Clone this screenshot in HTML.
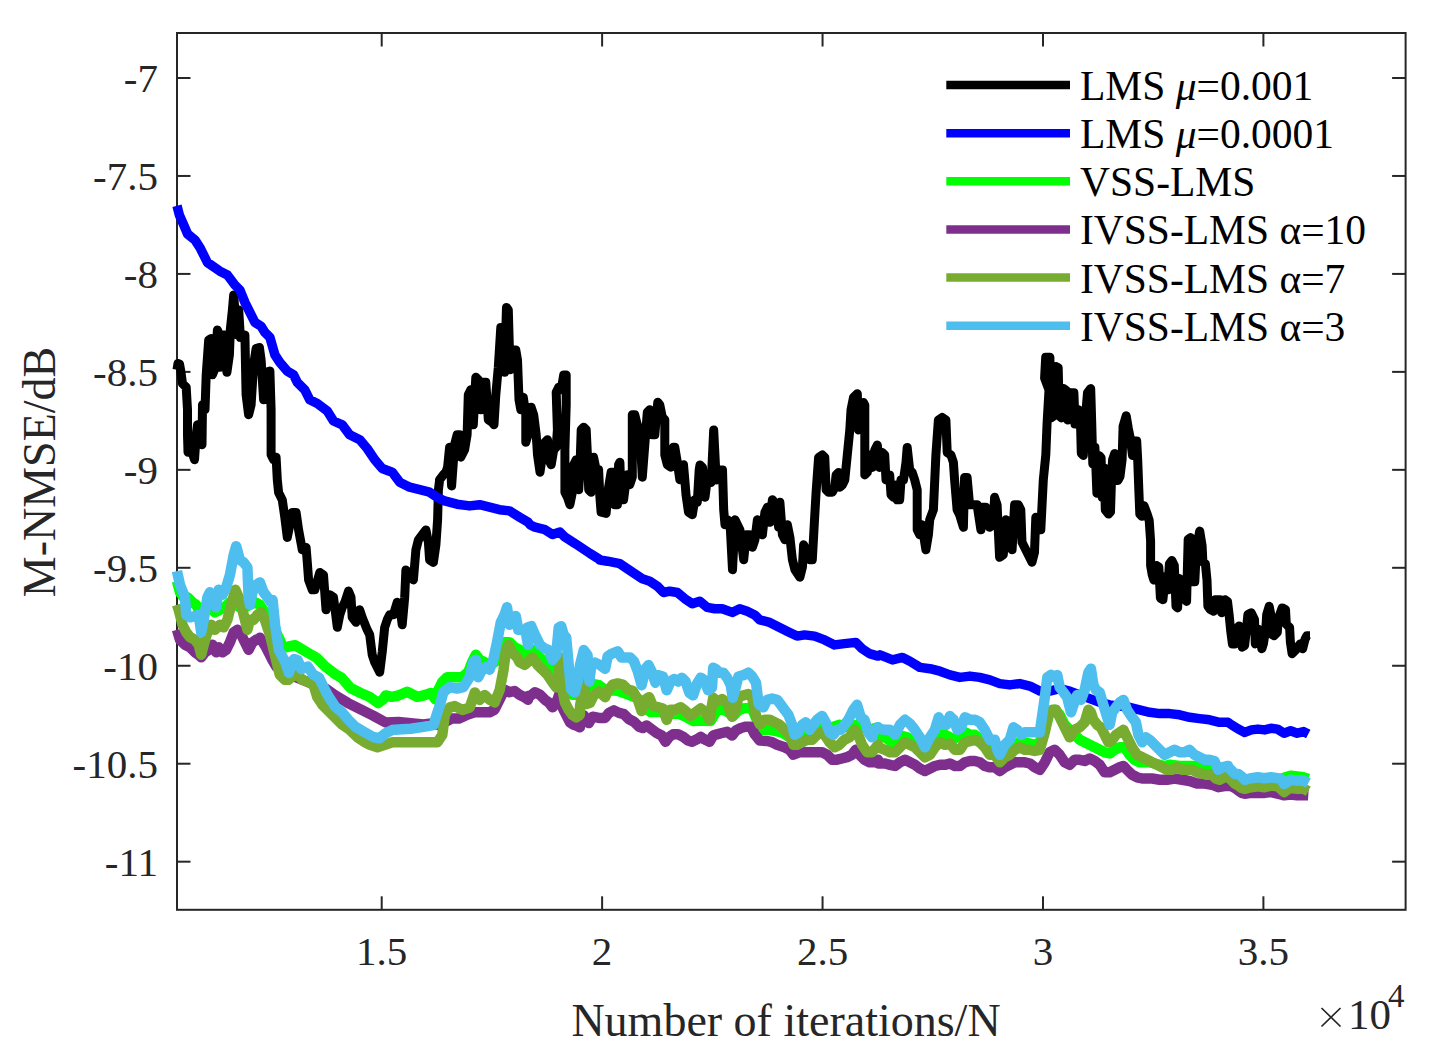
<!DOCTYPE html>
<html><head><meta charset="utf-8"><style>
html,body{margin:0;padding:0;background:#fff;}
svg{display:block;}
text{font-family:"Liberation Serif",serif;}
.t{font-size:41px;fill:#262626;}
.sup{font-size:33px;fill:#262626;}
.lab{font-size:46px;fill:#262626;}
.lg{font-size:41.5px;fill:#000;}
</style></head><body>
<svg width="1434" height="1058" viewBox="0 0 1434 1058">
<rect x="0" y="0" width="1434" height="1058" fill="#fff"/>
<rect x="177" y="33" width="1228.6" height="876.8" fill="none" stroke="#262626" stroke-width="2"/>
<line x1="177" y1="78.00" x2="190.5" y2="78.00" stroke="#262626" stroke-width="2"/>
<line x1="1405.6" y1="78.00" x2="1392.1" y2="78.00" stroke="#262626" stroke-width="2"/>
<text x="158" y="92.00" text-anchor="end" class="t">-7</text>
<line x1="177" y1="175.96" x2="190.5" y2="175.96" stroke="#262626" stroke-width="2"/>
<line x1="1405.6" y1="175.96" x2="1392.1" y2="175.96" stroke="#262626" stroke-width="2"/>
<text x="158" y="189.96" text-anchor="end" class="t">-7.5</text>
<line x1="177" y1="273.92" x2="190.5" y2="273.92" stroke="#262626" stroke-width="2"/>
<line x1="1405.6" y1="273.92" x2="1392.1" y2="273.92" stroke="#262626" stroke-width="2"/>
<text x="158" y="287.92" text-anchor="end" class="t">-8</text>
<line x1="177" y1="371.88" x2="190.5" y2="371.88" stroke="#262626" stroke-width="2"/>
<line x1="1405.6" y1="371.88" x2="1392.1" y2="371.88" stroke="#262626" stroke-width="2"/>
<text x="158" y="385.88" text-anchor="end" class="t">-8.5</text>
<line x1="177" y1="469.84" x2="190.5" y2="469.84" stroke="#262626" stroke-width="2"/>
<line x1="1405.6" y1="469.84" x2="1392.1" y2="469.84" stroke="#262626" stroke-width="2"/>
<text x="158" y="483.84" text-anchor="end" class="t">-9</text>
<line x1="177" y1="567.80" x2="190.5" y2="567.80" stroke="#262626" stroke-width="2"/>
<line x1="1405.6" y1="567.80" x2="1392.1" y2="567.80" stroke="#262626" stroke-width="2"/>
<text x="158" y="581.80" text-anchor="end" class="t">-9.5</text>
<line x1="177" y1="665.76" x2="190.5" y2="665.76" stroke="#262626" stroke-width="2"/>
<line x1="1405.6" y1="665.76" x2="1392.1" y2="665.76" stroke="#262626" stroke-width="2"/>
<text x="158" y="679.76" text-anchor="end" class="t">-10</text>
<line x1="177" y1="763.72" x2="190.5" y2="763.72" stroke="#262626" stroke-width="2"/>
<line x1="1405.6" y1="763.72" x2="1392.1" y2="763.72" stroke="#262626" stroke-width="2"/>
<text x="158" y="777.72" text-anchor="end" class="t">-10.5</text>
<line x1="177" y1="861.68" x2="190.5" y2="861.68" stroke="#262626" stroke-width="2"/>
<line x1="1405.6" y1="861.68" x2="1392.1" y2="861.68" stroke="#262626" stroke-width="2"/>
<text x="158" y="875.68" text-anchor="end" class="t">-11</text>
<line x1="381.70" y1="909.8" x2="381.70" y2="896.3" stroke="#262626" stroke-width="2"/>
<line x1="381.70" y1="33" x2="381.70" y2="46.5" stroke="#262626" stroke-width="2"/>
<text x="381.70" y="965" text-anchor="middle" class="t">1.5</text>
<line x1="602.12" y1="909.8" x2="602.12" y2="896.3" stroke="#262626" stroke-width="2"/>
<line x1="602.12" y1="33" x2="602.12" y2="46.5" stroke="#262626" stroke-width="2"/>
<text x="602.12" y="965" text-anchor="middle" class="t">2</text>
<line x1="822.55" y1="909.8" x2="822.55" y2="896.3" stroke="#262626" stroke-width="2"/>
<line x1="822.55" y1="33" x2="822.55" y2="46.5" stroke="#262626" stroke-width="2"/>
<text x="822.55" y="965" text-anchor="middle" class="t">2.5</text>
<line x1="1042.98" y1="909.8" x2="1042.98" y2="896.3" stroke="#262626" stroke-width="2"/>
<line x1="1042.98" y1="33" x2="1042.98" y2="46.5" stroke="#262626" stroke-width="2"/>
<text x="1042.98" y="965" text-anchor="middle" class="t">3</text>
<line x1="1263.40" y1="909.8" x2="1263.40" y2="896.3" stroke="#262626" stroke-width="2"/>
<line x1="1263.40" y1="33" x2="1263.40" y2="46.5" stroke="#262626" stroke-width="2"/>
<text x="1263.40" y="965" text-anchor="middle" class="t">3.5</text>
<path d="M177.0,369.8 L178.0,363.4 L179.5,363.9 L181.0,372.3 L182.5,383.6 L186.2,387.3 L187.5,409.8 L187.5,434.8 L188.0,452.2 L191.2,449.7 L194.5,459.7 L196.2,434.8 L197.5,424.8 L200.0,442.2 L202.0,444.7 L202.5,404.8 L205.0,409.8 L206.2,374.8 L208.7,339.9 L211.2,338.6 L212.4,374.8 L214.4,369.8 L215.4,364.9 L217.4,329.9 L219.4,334.9 L219.9,367.3 L222.4,334.9 L224.9,334.9 L226.9,372.3 L229.4,354.9 L230.4,328.7 L232.4,309.9 L233.7,295.0 L235.4,317.4 L236.9,334.9 L238.7,309.9 L240.4,337.4 L243.6,337.4 L244.9,334.9 L246.1,394.8 L248.6,414.8 L251.1,404.8 L253.6,364.9 L256.1,348.6 L259.4,347.4 L261.1,359.9 L263.6,399.8 L266.1,372.3 L269.9,371.1 L271.1,409.8 L271.1,454.7 L273.6,459.7 L276.1,457.2 L277.3,479.7 L278.6,492.5 L282.3,500.0 L284.8,517.4 L287.3,537.4 L292.3,512.5 L296.1,512.5 L298.6,529.9 L302.3,549.9 L306.1,547.4 L307.3,562.4 L308.6,579.9 L312.3,589.8 L314.8,589.8 L319.8,572.4 L323.5,574.9 L326.0,609.8 L329.8,594.8 L333.5,597.3 L337.3,627.3 L339.8,614.8 L342.3,607.3 L344.8,602.3 L348.5,591.1 L351.0,597.3 L352.2,617.3 L356.0,622.3 L359.7,609.8 L362.2,617.3 L367.2,629.8 L369.7,634.8 L372.2,654.8 L374.7,662.2 L379.7,672.2 L382.2,652.3 L384.7,627.3 L387.2,619.8 L389.7,614.8 L393.4,614.8 L397.2,602.3 L399.7,604.8 L402.2,624.8 L404.7,597.3 L405.9,569.9 L409.7,574.9 L413.4,579.9 L415.9,549.9 L418.4,539.9 L422.1,534.9 L425.9,529.9 L428.4,542.4 L429.6,559.9 L433.4,562.4 L435.9,544.9 L437.6,519.9 L438.4,490.0 L439.6,480.0 L439.6,479.7 L443.4,474.7 L445.9,472.2 L447.6,467.2 L449.6,447.2 L451.6,485.9 L454.6,444.7 L457.1,434.8 L459.6,434.8 L460.8,457.2 L464.6,449.7 L467.1,434.8 L468.3,394.8 L470.8,389.8 L473.3,424.8 L475.8,377.3 L478.3,379.8 L480.8,409.8 L483.3,382.3 L485.8,382.3 L488.3,419.8 L492.0,422.3 L494.0,424.8 L495.8,394.8 L498.3,367.3 L500.8,327.4 L503.3,327.4 L504.5,372.3 L506.5,307.4 L508.3,309.9 L510.0,369.8 L512.5,349.9 L515.8,349.9 L517.5,359.9 L519.0,399.8 L520.8,409.8 L523.3,397.3 L525.8,414.8 L525.8,442.2 L528.0,434.8 L528.7,409.8 L531.2,407.3 L533.7,414.8 L536.2,434.8 L537.5,454.8 L540.0,472.2 L542.5,454.8 L545.0,442.3 L547.5,439.8 L550.0,462.2 L551.2,464.7 L553.7,449.8 L556.2,447.3 L557.4,429.8 L556.2,392.3 L558.7,387.3 L561.2,389.8 L563.7,374.9 L566.2,374.9 L566.2,404.8 L564.9,449.8 L564.9,492.2 L567.4,497.2 L569.9,504.7 L572.4,492.2 L573.7,464.7 L576.2,459.7 L578.7,489.7 L579.9,469.7 L581.2,429.8 L583.7,427.3 L586.2,429.8 L587.4,454.8 L588.7,489.7 L591.2,492.2 L592.4,469.7 L593.6,457.3 L596.1,469.7 L598.6,469.7 L599.9,497.2 L601.1,512.2 L606.1,513.4 L608.6,487.2 L611.1,472.2 L613.6,472.2 L614.9,504.7 L617.4,504.7 L618.6,464.7 L619.9,462.2 L621.1,499.7 L623.6,499.7 L626.1,479.7 L627.3,474.7 L629.8,484.7 L632.3,477.2 L632.3,414.8 L634.8,414.8 L637.3,424.8 L639.8,429.8 L642.3,477.2 L644.8,444.8 L647.3,412.3 L649.8,409.8 L652.3,434.8 L654.8,434.8 L656.1,419.8 L657.8,402.3 L659.8,404.8 L662.3,417.3 L664.8,419.8 L664.8,454.8 L667.3,464.7 L671.0,467.2 L673.5,447.3 L674.8,447.3 L677.3,462.2 L679.8,479.7 L683.5,464.7 L684.8,479.7 L686.0,494.7 L688.5,512.2 L692.3,514.7 L694.8,499.7 L697.3,502.2 L699.2,469.7 L700.0,464.9 L702.5,467.4 L705.0,497.3 L707.5,477.4 L711.2,482.4 L713.7,429.9 L716.2,479.9 L718.7,469.9 L722.5,469.9 L723.7,509.8 L725.0,524.8 L727.5,519.8 L730.0,522.3 L732.5,569.7 L735.0,519.8 L737.4,524.8 L739.9,529.8 L743.7,559.7 L746.2,534.8 L749.9,534.8 L752.4,547.3 L754.9,539.8 L757.4,519.8 L759.9,524.8 L762.4,534.8 L764.9,512.3 L767.4,507.3 L769.9,522.3 L772.4,499.8 L776.1,504.8 L778.6,527.3 L779.9,502.3 L782.4,534.8 L784.9,539.8 L787.4,524.8 L789.9,537.3 L792.4,559.7 L794.9,569.7 L799.9,577.2 L802.4,567.2 L803.6,544.8 L806.1,549.8 L809.8,559.7 L812.3,559.7 L814.8,514.8 L816.1,492.3 L818.6,457.4 L822.3,454.9 L824.8,457.4 L826.1,489.8 L828.6,492.3 L832.3,492.3 L834.8,487.3 L836.1,474.9 L838.6,472.4 L839.8,487.3 L842.3,484.9 L844.8,479.9 L847.3,454.9 L849.8,429.9 L851.0,410.0 L853.5,397.5 L857.3,393.7 L858.5,429.9 L861.0,417.4 L863.5,402.5 L864.8,405.0 L864.8,474.9 L867.3,472.4 L869.8,454.9 L872.3,467.4 L874.8,449.9 L877.3,444.9 L879.7,467.4 L882.2,452.4 L884.7,454.9 L886.0,479.9 L889.7,474.9 L891.0,494.8 L893.5,497.3 L896.0,484.9 L897.2,499.8 L899.7,499.8 L901.0,479.9 L903.5,479.9 L906.0,462.4 L907.2,447.4 L909.7,469.9 L912.2,472.4 L914.7,479.9 L917.2,489.8 L917.2,529.8 L919.7,534.8 L922.2,524.8 L924.7,542.3 L925.9,549.8 L928.4,534.8 L929.7,519.8 L933.4,509.8 L935.9,454.9 L938.4,419.9 L942.2,417.4 L945.9,419.9 L947.2,452.4 L950.9,454.9 L953.4,462.4 L954.6,479.9 L957.1,509.8 L959.6,514.8 L963.4,527.3 L964.6,477.4 L967.1,477.4 L969.6,504.8 L972.1,504.8 L977.1,504.8 L980.9,529.8 L982.1,507.3 L985.8,507.3 L989.6,527.3 L993.3,524.8 L994.6,497.3 L997.1,504.8 L999.6,557.3 L1003.3,554.8 L1005.8,519.8 L1009.6,522.3 L1012.1,549.8 L1014.6,504.8 L1018.3,504.8 L1020.8,509.8 L1022.0,542.3 L1027.0,552.3 L1032.0,562.2 L1034.5,552.3 L1035.8,517.3 L1039.5,519.8 L1040.8,529.8 L1043.3,479.9 L1045.8,454.9 L1047.0,424.9 L1049.0,390.0 L1044.6,378.1 L1045.7,357.2 L1049.9,357.2 L1050.9,417.9 L1054.1,415.8 L1056.2,366.6 L1058.2,367.7 L1059.3,415.8 L1061.4,417.9 L1063.5,388.6 L1066.6,390.7 L1067.7,420.0 L1070.8,392.8 L1073.9,392.8 L1075.0,424.1 L1077.1,424.1 L1078.1,409.5 L1080.2,411.6 L1081.3,453.4 L1083.3,455.5 L1085.4,417.9 L1087.5,392.8 L1090.7,388.6 L1091.7,422.1 L1092.8,463.9 L1094.9,447.2 L1095.9,468.1 L1096.9,493.2 L1099.0,455.5 L1101.1,457.6 L1102.2,497.4 L1104.3,468.1 L1105.3,509.9 L1108.5,514.1 L1110.5,512.0 L1111.6,476.4 L1112.6,459.7 L1114.7,453.4 L1116.8,455.5 L1117.9,480.6 L1120.0,476.4 L1122.1,459.7 L1123.1,426.2 L1126.2,415.8 L1128.3,428.3 L1130.4,438.8 L1132.5,455.5 L1134.6,440.9 L1136.7,440.9 L1137.7,459.7 L1138.8,489.0 L1139.8,514.1 L1141.9,516.2 L1144.0,505.7 L1147.2,514.1 L1149.2,520.4 L1150.6,540.9 L1150.6,565.4 L1152.3,575.2 L1153.9,580.1 L1156.4,565.4 L1158.8,567.0 L1160.4,598.1 L1162.9,599.7 L1165.3,576.8 L1167.8,589.9 L1169.4,563.8 L1171.9,560.5 L1174.3,565.4 L1176.0,606.3 L1177.6,607.9 L1179.2,578.5 L1181.7,580.1 L1183.3,598.1 L1186.6,601.4 L1187.4,568.7 L1188.2,539.2 L1190.7,537.6 L1192.3,581.8 L1194.8,581.8 L1196.4,549.1 L1199.7,531.1 L1202.1,545.8 L1202.9,562.1 L1205.4,563.8 L1207.0,580.1 L1207.9,606.3 L1210.3,609.5 L1213.6,611.2 L1215.2,599.7 L1220.1,599.7 L1221.8,612.8 L1225.0,599.7 L1227.5,601.4 L1229.1,614.5 L1230.7,630.8 L1232.4,643.9 L1234.8,643.9 L1237.3,629.2 L1238.9,625.9 L1240.6,629.2 L1242.2,647.2 L1244.6,645.5 L1246.3,630.8 L1247.9,614.5 L1251.2,612.8 L1254.5,619.4 L1255.3,643.9 L1256.9,640.6 L1258.5,629.2 L1260.2,630.8 L1261.8,648.8 L1263.4,643.9 L1265.9,627.5 L1266.7,614.5 L1269.2,606.3 L1270.8,614.5 L1271.6,634.1 L1274.1,635.7 L1277.3,632.4 L1278.2,619.4 L1279.8,614.5 L1282.2,607.9 L1285.5,609.5 L1286.3,624.3 L1288.0,625.9 L1289.6,627.5 L1290.4,642.2 L1292.1,653.7 L1295.3,650.4 L1297.8,647.2 L1300.2,643.9 L1302.7,648.8 L1305.1,639.0 L1306.8,635.7 L1310.0,635.7" fill="none" stroke="#000000" stroke-width="9.0" stroke-linejoin="round" stroke-linecap="butt"/>
<path d="M177.0,205.7 L179.4,215.1 L183.8,225.2 L187.6,234.0 L195.1,240.2 L200.1,247.8 L207.4,262.5 L219.9,271.2 L227.4,275.0 L234.9,285.0 L239.9,290.0 L244.9,302.4 L249.9,312.4 L254.9,322.4 L261.1,326.2 L264.9,332.4 L269.9,337.4 L274.9,354.9 L279.8,362.4 L287.3,371.1 L293.6,374.8 L297.3,382.3 L304.8,389.8 L309.8,399.8 L317.3,403.5 L327.3,411.0 L333.5,421.0 L342.3,424.8 L349.7,434.8 L359.7,439.7 L367.2,448.5 L374.7,459.7 L382.2,468.5 L392.2,472.2 L399.7,482.2 L409.7,487.2 L419.7,489.7 L429.6,492.2 L437.1,497.2 L444.6,500.9 L457.1,504.2 L469.6,505.9 L479.6,504.7 L489.6,507.2 L499.5,509.7 L509.5,510.9 L519.5,517.1 L528.0,522.1 L530.0,524.7 L535.0,527.2 L545.0,529.7 L552.5,534.6 L559.9,532.1 L564.9,537.1 L574.9,543.4 L589.9,553.4 L599.9,559.6 L599.9,560.0 L607.4,561.2 L619.9,563.7 L627.3,568.7 L634.8,573.7 L642.3,578.7 L649.8,581.2 L657.3,586.2 L663.5,592.5 L669.8,591.2 L677.3,592.5 L684.8,598.7 L692.3,603.7 L699.7,601.2 L707.2,607.4 L714.7,608.7 L722.2,608.7 L732.2,612.4 L739.7,608.7 L747.2,611.2 L754.7,614.9 L759.7,619.9 L769.7,622.4 L779.6,627.4 L789.6,632.4 L797.1,636.1 L804.6,634.9 L814.6,636.1 L824.6,639.9 L834.6,644.9 L844.5,643.6 L855.8,642.4 L862.0,648.6 L869.5,653.6 L878.0,656.1 L880.0,654.9 L892.5,659.9 L902.5,657.4 L909.9,661.2 L919.9,667.4 L929.9,668.7 L939.9,671.2 L949.9,674.9 L959.9,677.4 L969.9,676.1 L979.8,677.4 L989.8,679.9 L999.8,683.6 L1009.8,684.9 L1019.8,683.6 L1029.8,686.1 L1039.8,691.1 L1049.7,691.1 L1059.7,688.6 L1069.7,691.1 L1079.7,694.9 L1089.7,698.6 L1099.7,702.4 L1109.7,704.9 L1119.7,706.1 L1129.6,707.3 L1139.6,709.8 L1149.6,712.3 L1159.6,713.6 L1169.6,713.6 L1179.6,714.8 L1189.6,717.3 L1199.5,718.6 L1209.5,719.8 L1219.5,722.3 L1228.0,722.3 L1231.8,725.0 L1238.3,729.1 L1244.8,732.4 L1251.4,729.9 L1257.9,729.1 L1264.5,729.9 L1271.0,728.3 L1277.5,729.1 L1284.1,733.2 L1290.6,730.7 L1297.2,733.2 L1303.7,731.6 L1308.3,734.0" fill="none" stroke="#0000ff" stroke-width="9.5" stroke-linejoin="round" stroke-linecap="butt"/>
<path d="M177.0,581.1 L180.0,592.3 L183.7,597.3 L187.5,597.3 L192.5,602.3 L196.2,604.8 L200.0,612.3 L205.0,609.8 L209.9,607.3 L214.9,612.3 L219.9,609.8 L224.9,607.3 L229.9,602.3 L234.9,604.8 L239.9,607.3 L244.9,607.3 L249.9,604.8 L254.9,602.3 L259.9,604.8 L264.9,612.3 L269.9,619.8 L274.9,629.8 L279.8,639.8 L282.6,647.8 L288.9,646.5 L295.2,645.2 L301.5,649.0 L307.8,652.8 L316.6,657.8 L325.4,666.6 L335.4,674.2 L341.7,677.9 L350.5,688.0 L360.6,693.0 L369.4,696.8 L378.1,703.1 L383.2,699.3 L385.7,695.5 L392.0,696.8 L398.3,695.5 L407.1,691.8 L417.1,696.8 L423.4,695.5 L430.9,693.0 L435.3,699.3 L438.4,689.7 L442.1,682.2 L447.1,677.2 L454.6,677.2 L462.1,677.2 L468.3,672.2 L472.1,662.2 L475.8,654.8 L479.6,659.7 L484.6,662.2 L489.6,664.7 L494.5,662.2 L499.5,654.8 L504.5,642.3 L509.5,642.3 L514.5,647.3 L519.5,649.8 L524.5,654.8 L528.0,654.8 L527.5,647.4 L532.5,649.9 L537.5,654.9 L545.0,662.4 L552.5,669.8 L557.4,669.8 L561.2,677.3 L566.2,689.8 L572.4,694.8 L579.9,694.8 L580.0,692.8 L586.3,687.8 L592.6,684.0 L598.9,685.2 L603.9,689.0 L608.9,690.3 L617.7,690.8 L630.3,695.3 L637.8,698.3 L645.4,707.9 L650.4,712.1 L660.4,712.1 L668.0,714.2 L678.0,713.4 L685.6,716.7 L693.1,720.9 L700.7,720.4 L710.7,720.9 L717.0,710.4 L722.0,709.1 L727.1,711.6 L733.3,715.9 L738.4,710.4 L743.4,708.4 L748.4,707.9 L752.2,709.1 L756.0,717.9 L759.7,725.5 L762.2,729.8 L769.7,729.8 L782.1,732.3 L789.6,737.3 L794.6,739.7 L807.1,734.8 L819.6,727.3 L832.1,727.3 L839.6,724.8 L844.5,727.3 L857.0,724.8 L869.5,729.8 L878.0,727.3 L878.7,734.8 L885.0,737.3 L892.5,742.3 L897.5,739.8 L902.5,736.1 L907.4,737.3 L912.4,742.3 L919.9,747.3 L924.9,752.3 L929.9,747.3 L934.9,739.8 L939.9,734.8 L944.9,734.8 L949.9,737.3 L954.9,738.6 L959.9,734.8 L964.9,732.3 L969.9,734.8 L974.9,734.8 L979.8,738.6 L984.8,739.8 L989.8,744.8 L994.8,747.3 L999.8,752.3 L1004.8,749.8 L1009.8,747.3 L1014.8,744.8 L1019.8,742.3 L1024.8,742.3 L1029.8,743.5 L1034.8,744.8 L1039.8,742.3 L1044.8,729.8 L1049.7,712.3 L1054.7,709.8 L1059.7,714.8 L1064.7,724.8 L1069.7,729.8 L1074.7,734.8 L1079.7,739.8 L1084.7,742.3 L1089.7,744.8 L1094.7,747.3 L1099.7,749.8 L1104.7,752.3 L1109.7,753.5 L1114.7,749.8 L1119.7,747.3 L1124.6,747.3 L1129.6,754.8 L1134.6,759.8 L1139.6,762.3 L1144.6,762.3 L1149.6,762.3 L1154.6,763.5 L1159.6,764.8 L1164.6,766.0 L1169.6,764.8 L1179.6,766.0 L1189.6,766.0 L1199.5,766.0 L1209.5,767.3 L1219.5,769.8 L1228.0,772.3 L1228.5,775.7 L1235.0,779.0 L1241.6,780.6 L1248.1,782.2 L1256.3,781.4 L1264.5,780.6 L1272.6,779.8 L1280.8,779.0 L1285.7,777.3 L1290.6,775.7 L1297.2,776.5 L1303.7,777.3 L1308.3,779.0" fill="none" stroke="#00ff00" stroke-width="10.5" stroke-linejoin="round" stroke-linecap="butt"/>
<path d="M177.0,629.8 L180.0,639.8 L185.0,644.8 L190.0,647.3 L195.0,652.3 L198.7,654.8 L201.2,657.3 L205.0,652.3 L208.7,649.8 L212.4,644.8 L216.2,652.3 L218.7,647.3 L222.4,652.3 L226.2,649.8 L229.9,642.3 L233.7,632.3 L237.4,629.8 L241.2,634.8 L244.9,642.3 L248.6,649.8 L252.4,642.3 L256.1,639.8 L259.9,638.5 L260.0,637.7 L266.3,647.8 L272.6,660.3 L276.3,666.6 L285.1,672.9 L297.7,677.9 L310.3,683.0 L320.3,686.7 L326.6,689.2 L335.4,695.5 L348.0,703.1 L360.6,709.4 L373.1,715.6 L385.7,722.5 L398.3,721.9 L410.8,723.2 L423.4,724.4 L433.5,723.2 L437.1,724.7 L444.6,722.2 L452.1,718.4 L459.6,718.4 L467.1,714.7 L474.6,712.2 L482.1,712.2 L489.6,712.2 L494.5,709.7 L499.5,699.7 L504.5,689.7 L509.5,692.2 L514.5,691.0 L519.5,694.7 L524.5,697.2 L528.0,699.7 L527.5,696.1 L530.0,696.1 L535.0,692.3 L540.0,694.8 L545.0,699.8 L548.7,702.3 L552.5,707.3 L557.4,699.8 L559.9,692.3 L562.4,707.3 L566.2,714.8 L569.9,722.3 L573.7,724.8 L577.4,726.0 L579.9,727.3 L580.0,725.5 L583.8,715.4 L588.8,723.0 L592.6,716.7 L598.9,717.9 L605.1,717.9 L608.9,712.9 L613.9,710.4 L619.0,712.9 L624.0,714.2 L629.0,719.2 L634.0,721.7 L639.1,726.7 L642.8,728.0 L646.6,725.5 L651.6,729.2 L656.7,733.0 L661.7,735.5 L665.5,741.8 L669.2,736.8 L673.0,734.3 L678.0,734.3 L683.1,736.8 L688.1,740.6 L691.9,741.8 L696.9,739.3 L700.7,736.8 L704.4,739.3 L709.5,741.8 L713.2,735.5 L717.0,734.3 L722.0,733.0 L727.1,731.8 L732.1,735.5 L735.9,730.5 L740.9,728.0 L745.9,726.7 L750.9,726.7 L754.7,734.3 L759.7,740.6 L767.2,741.0 L772.1,742.2 L777.1,744.7 L784.6,747.2 L789.6,749.7 L793.4,754.7 L799.6,752.2 L807.1,752.2 L814.6,752.2 L822.1,752.2 L827.1,754.7 L832.1,759.7 L837.1,759.7 L842.0,758.5 L847.0,757.2 L852.0,754.7 L855.8,749.7 L859.5,754.7 L864.5,759.7 L869.5,762.2 L874.5,762.2 L878.0,759.7 L878.7,763.5 L885.0,763.5 L890.0,764.8 L895.0,766.0 L900.0,762.3 L905.0,759.8 L909.9,762.3 L914.9,764.8 L919.9,768.5 L924.9,771.0 L929.9,768.5 L934.9,766.0 L939.9,764.8 L944.9,764.8 L949.9,763.5 L954.9,766.0 L959.9,766.0 L964.9,762.3 L969.9,761.0 L974.9,761.0 L979.8,762.3 L984.8,766.0 L989.8,767.3 L994.8,767.3 L999.8,771.0 L1004.8,767.3 L1009.8,764.8 L1014.8,762.3 L1019.8,762.3 L1024.8,762.3 L1029.8,763.5 L1034.8,767.3 L1039.8,769.8 L1044.8,762.3 L1049.7,752.3 L1054.7,749.8 L1059.7,754.8 L1064.7,762.3 L1069.7,764.8 L1074.7,759.8 L1079.7,759.8 L1084.7,761.0 L1089.7,758.5 L1094.7,761.0 L1099.7,764.8 L1104.7,772.3 L1109.7,772.3 L1114.7,769.8 L1119.7,767.3 L1123.4,766.0 L1127.1,769.8 L1132.1,774.8 L1137.1,777.3 L1142.1,778.5 L1147.1,778.5 L1152.1,778.5 L1159.6,779.7 L1167.1,779.7 L1174.6,778.5 L1182.1,779.7 L1189.6,781.0 L1197.0,783.5 L1204.5,783.5 L1212.0,784.7 L1218.3,787.2 L1224.5,786.0 L1228.0,786.0 L1228.5,783.9 L1231.8,786.3 L1235.0,788.0 L1238.3,790.4 L1241.6,792.9 L1244.8,793.7 L1251.4,792.9 L1257.9,792.9 L1264.5,792.9 L1271.0,792.1 L1277.5,793.7 L1280.8,794.5 L1284.1,795.3 L1290.6,794.5 L1297.2,795.3 L1303.7,795.0 L1308.3,795.3" fill="none" stroke="#7e2f8e" stroke-width="10.5" stroke-linejoin="round" stroke-linecap="butt"/>
<path d="M177.0,604.8 L178.7,609.8 L182.5,624.8 L186.2,632.3 L190.0,637.3 L195.0,639.8 L198.7,644.8 L201.2,654.8 L203.7,644.8 L207.4,632.3 L211.2,624.8 L214.9,629.8 L219.9,624.8 L223.7,627.3 L227.4,619.8 L231.2,604.8 L235.4,589.8 L238.7,597.3 L242.4,609.8 L244.9,619.8 L247.4,629.8 L249.9,619.8 L253.6,619.8 L257.4,614.8 L261.1,612.3 L264.9,619.8 L269.9,634.8 L273.6,649.8 L277.3,664.7 L279.8,674.7 L284.8,679.7 L288.6,679.7 L293.6,674.7 L297.3,674.7 L302.3,679.7 L308.6,682.2 L313.5,684.7 L317.3,697.2 L322.3,704.7 L327.3,709.7 L334.8,717.2 L342.3,724.7 L349.7,729.7 L357.2,737.1 L364.7,742.1 L369.9,744.8 L377.4,747.3 L384.9,744.8 L392.4,742.3 L399.9,742.3 L407.3,742.3 L414.8,742.3 L422.3,742.3 L429.8,742.3 L437.3,742.3 L442.3,734.8 L444.8,714.9 L449.8,707.4 L454.8,706.1 L462.3,709.9 L469.8,707.4 L474.8,692.4 L479.7,699.9 L484.7,694.9 L489.7,699.9 L494.7,702.4 L499.7,689.9 L503.5,669.9 L506.0,650.0 L508.5,645.0 L512.2,652.5 L517.2,657.4 L519.7,662.4 L524.7,664.9 L527.5,662.4 L532.5,657.4 L537.5,664.9 L542.5,669.8 L547.5,674.8 L552.5,682.3 L556.2,687.3 L558.7,677.3 L560.4,657.4 L562.4,689.8 L564.9,702.3 L568.7,709.8 L572.4,714.8 L576.2,717.3 L579.9,714.8 L580.0,706.6 L583.8,682.7 L586.3,704.1 L590.1,702.8 L593.8,695.3 L598.9,691.5 L605.1,697.2 L608.9,689.6 L612.7,684.6 L617.7,683.4 L622.7,684.6 L627.8,689.6 L632.8,690.9 L637.8,699.7 L641.6,711.0 L645.4,699.7 L649.1,697.2 L652.9,706.0 L657.9,707.2 L663.0,708.5 L666.7,719.8 L670.5,709.8 L675.5,709.8 L680.6,707.2 L685.6,711.0 L690.6,716.0 L695.6,712.3 L700.7,708.5 L705.7,712.3 L709.5,719.8 L713.2,697.8 L717.0,701.6 L722.0,699.1 L727.1,702.8 L732.1,716.7 L735.9,709.1 L738.4,696.6 L743.4,695.3 L748.4,694.0 L752.2,697.8 L756.0,715.4 L759.7,724.2 L764.7,719.8 L769.7,719.8 L774.6,722.3 L779.6,724.8 L784.6,729.8 L789.6,734.8 L793.4,744.7 L797.1,744.7 L802.1,742.2 L807.1,739.7 L812.1,739.7 L817.1,734.8 L820.8,732.3 L824.6,734.8 L829.6,742.2 L834.6,747.2 L839.6,744.7 L844.5,739.7 L849.5,737.3 L854.5,729.8 L858.3,734.8 L862.0,744.7 L867.0,752.2 L872.0,752.2 L878.0,744.7 L878.7,747.3 L885.0,749.8 L890.0,752.3 L895.0,752.3 L900.0,747.3 L905.0,742.3 L909.9,744.8 L914.9,747.3 L919.9,752.3 L924.9,757.3 L929.9,754.8 L934.9,747.3 L939.9,742.3 L944.9,744.8 L949.9,743.5 L954.9,749.8 L959.9,749.8 L964.9,742.3 L969.9,741.1 L974.9,739.8 L979.8,742.3 L984.8,747.3 L989.8,754.8 L994.8,754.8 L999.8,762.3 L1004.8,757.3 L1009.8,754.8 L1014.8,749.8 L1019.8,747.3 L1024.8,749.8 L1029.8,749.8 L1034.8,751.0 L1039.8,749.8 L1044.8,732.3 L1048.5,714.8 L1052.2,709.8 L1056.0,709.8 L1059.7,717.3 L1064.7,727.3 L1069.7,737.3 L1074.7,729.8 L1079.7,727.3 L1084.7,722.3 L1088.4,709.8 L1090.9,712.3 L1093.4,719.8 L1097.2,724.8 L1100.9,727.3 L1104.7,734.8 L1108.4,742.3 L1112.2,739.8 L1115.9,734.8 L1119.7,732.3 L1123.4,729.8 L1127.1,737.3 L1132.1,747.3 L1137.1,754.8 L1142.1,757.3 L1147.1,759.8 L1152.1,762.3 L1157.1,764.8 L1162.1,767.3 L1167.1,769.8 L1172.1,769.8 L1177.1,767.3 L1182.1,769.8 L1187.1,769.8 L1192.0,769.8 L1197.0,772.3 L1202.0,773.5 L1207.0,774.8 L1212.0,774.8 L1215.8,778.5 L1219.5,779.7 L1224.5,777.3 L1228.0,776.0 L1228.5,777.3 L1231.8,780.6 L1235.0,783.9 L1238.3,785.5 L1241.6,788.0 L1244.8,788.8 L1248.1,788.0 L1251.4,787.2 L1257.9,786.3 L1264.5,787.2 L1271.0,785.5 L1277.5,786.3 L1280.8,788.8 L1284.1,792.1 L1287.3,789.6 L1290.6,788.0 L1297.2,788.8 L1303.7,788.8 L1308.3,791.2" fill="none" stroke="#77ac30" stroke-width="10.5" stroke-linejoin="round" stroke-linecap="butt"/>
<path d="M177.0,571.1 L180.0,584.9 L185.0,597.3 L186.2,614.8 L190.0,617.3 L195.0,616.1 L198.7,614.8 L201.2,632.3 L203.7,619.8 L207.4,597.3 L209.9,592.3 L213.7,602.3 L216.2,607.3 L218.7,589.8 L222.4,594.8 L226.2,587.3 L229.9,574.9 L233.7,554.9 L236.2,546.2 L239.9,559.9 L243.6,562.4 L247.4,567.4 L248.6,597.3 L249.9,604.8 L252.4,592.3 L256.1,584.9 L259.9,582.4 L263.6,592.3 L267.4,597.3 L271.1,602.3 L272.6,600.0 L275.1,625.1 L278.9,650.3 L285.1,661.6 L288.9,672.9 L293.9,659.1 L297.7,660.3 L301.5,669.1 L307.8,666.6 L312.8,674.2 L319.1,677.9 L322.8,685.5 L327.9,695.5 L335.4,706.8 L341.7,711.9 L348.0,719.4 L355.5,726.9 L364.3,732.0 L373.1,737.0 L379.4,738.3 L385.7,733.2 L392.0,730.1 L398.3,729.5 L410.8,728.8 L423.4,726.9 L433.5,725.1 L437.2,713.1 L439.7,705.6 L443.4,692.2 L449.6,687.2 L457.1,688.5 L463.3,687.2 L469.6,677.2 L473.3,662.2 L475.8,659.7 L478.3,677.2 L482.1,669.7 L485.8,667.2 L489.6,669.7 L493.3,659.7 L497.0,642.3 L500.8,622.3 L504.5,614.8 L507.0,607.3 L509.5,624.8 L512.0,619.8 L515.8,616.1 L518.3,629.8 L522.0,629.8 L525.8,632.3 L528.0,644.8 L527.5,627.4 L531.2,626.2 L535.0,634.9 L540.0,644.9 L545.0,648.6 L548.7,649.9 L552.5,659.9 L556.2,654.9 L558.7,627.4 L561.2,626.2 L563.7,634.9 L566.2,637.4 L568.7,664.9 L571.2,689.8 L574.9,692.3 L578.7,677.3 L580.0,665.1 L583.8,650.1 L587.5,655.1 L589.4,681.5 L591.3,665.1 L595.1,662.6 L600.1,665.1 L605.1,668.9 L607.7,656.3 L611.4,653.8 L617.7,651.3 L621.5,657.6 L625.2,657.6 L630.3,657.6 L634.0,661.4 L637.8,671.4 L641.6,685.2 L645.4,668.9 L648.5,665.1 L651.6,671.4 L655.4,682.7 L657.9,675.2 L663.0,676.5 L666.7,690.3 L670.5,681.5 L674.3,679.0 L678.0,681.5 L681.8,677.7 L685.6,681.5 L689.4,692.8 L693.1,695.3 L696.9,684.0 L700.7,677.7 L704.4,680.2 L708.2,690.3 L712.0,687.8 L713.2,667.7 L715.7,668.9 L719.5,672.7 L723.3,672.7 L727.1,677.7 L730.8,685.2 L732.7,697.8 L735.9,686.5 L738.4,676.5 L743.4,675.2 L748.4,672.7 L752.2,676.5 L756.0,682.7 L758.5,702.8 L759.7,704.8 L763.4,707.3 L767.2,699.8 L772.1,698.6 L777.1,699.8 L780.9,704.8 L784.6,709.8 L788.4,714.8 L792.1,724.8 L794.6,734.8 L798.4,732.3 L802.1,724.8 L805.8,722.3 L809.6,729.8 L813.3,724.8 L817.1,719.8 L822.1,716.0 L825.8,722.3 L829.6,732.3 L833.3,734.8 L837.1,729.8 L840.8,729.8 L844.5,724.8 L848.3,719.8 L853.3,709.8 L857.0,704.8 L860.8,717.3 L864.5,719.8 L868.3,732.3 L872.0,737.3 L874.5,729.8 L878.0,727.3 L878.7,728.6 L885.0,729.8 L890.0,729.8 L895.0,734.8 L900.0,724.8 L905.0,719.8 L909.9,723.6 L914.9,729.8 L919.9,737.3 L924.9,747.3 L929.9,737.3 L934.9,729.8 L938.7,717.3 L942.4,724.8 L946.1,724.8 L949.9,716.1 L953.6,719.8 L957.4,729.8 L961.1,727.3 L964.9,717.3 L969.9,719.8 L974.9,719.8 L979.8,722.3 L984.8,729.8 L989.8,739.8 L994.8,739.8 L997.3,749.8 L999.8,754.8 L1004.8,744.8 L1009.8,739.8 L1013.5,727.3 L1017.3,729.8 L1021.0,734.8 L1024.8,732.3 L1029.8,732.3 L1034.8,732.3 L1039.8,732.3 L1042.3,714.8 L1044.8,697.4 L1047.3,677.4 L1051.0,674.9 L1054.7,677.4 L1057.2,674.9 L1059.7,687.4 L1063.5,692.4 L1067.2,697.4 L1071.0,712.3 L1073.5,704.9 L1077.2,694.9 L1081.0,699.9 L1084.7,689.9 L1088.4,672.4 L1090.9,668.7 L1093.4,684.9 L1095.9,689.9 L1099.7,692.4 L1103.4,704.9 L1107.2,717.3 L1109.7,724.8 L1112.2,712.3 L1115.9,707.3 L1119.7,702.4 L1123.4,699.9 L1127.1,709.8 L1132.1,717.3 L1135.9,722.3 L1138.4,734.8 L1142.1,742.3 L1145.9,737.3 L1149.6,739.8 L1154.6,744.8 L1159.6,749.8 L1164.6,754.8 L1169.6,752.3 L1174.6,749.8 L1179.6,752.3 L1184.6,752.3 L1189.6,749.8 L1194.5,754.8 L1199.5,757.3 L1204.5,759.8 L1209.5,759.8 L1214.5,761.0 L1218.3,769.8 L1222.0,767.3 L1228.0,766.0 L1228.5,767.5 L1231.8,770.8 L1235.0,774.1 L1238.3,774.1 L1241.6,776.5 L1244.8,779.8 L1248.1,779.0 L1251.4,778.2 L1257.9,777.3 L1264.5,778.2 L1271.0,777.3 L1277.5,778.2 L1280.8,779.0 L1284.1,783.9 L1287.3,782.2 L1290.6,779.8 L1297.2,780.6 L1303.7,780.6 L1308.3,783.1" fill="none" stroke="#4dbeee" stroke-width="10.5" stroke-linejoin="round" stroke-linecap="butt"/>
<text x="786" y="1035.5" text-anchor="middle" class="lab">Number of iterations/N</text>
<text transform="translate(55,472) rotate(-90)" text-anchor="middle" class="lab">M-NMSE/dB</text>
<path d="M1321.5,1008 L1340.5,1026.5 M1340.5,1008 L1321.5,1026.5" stroke="#262626" stroke-width="1.7" fill="none"/>
<text x="1348" y="1028.5" class="t" style="font-size:43px">10</text><text x="1388" y="1007" class="sup">4</text>
<line x1="946.3" y1="85.0" x2="1070" y2="85.0" stroke="#000000" stroke-width="8.5"/>
<text x="1080" y="100.0" class="lg">LMS <tspan font-style="italic">μ</tspan>=0.001</text>
<line x1="946.3" y1="133.2" x2="1070" y2="133.2" stroke="#0000ff" stroke-width="8.5"/>
<text x="1080" y="148.2" class="lg">LMS <tspan font-style="italic">μ</tspan>=0.0001</text>
<line x1="946.3" y1="181.3" x2="1070" y2="181.3" stroke="#00ff00" stroke-width="8.5"/>
<text x="1080" y="196.3" class="lg">VSS-LMS</text>
<line x1="946.3" y1="229.4" x2="1070" y2="229.4" stroke="#7e2f8e" stroke-width="8.5"/>
<text x="1080" y="244.4" class="lg">IVSS-LMS α=10</text>
<line x1="946.3" y1="277.6" x2="1070" y2="277.6" stroke="#77ac30" stroke-width="8.5"/>
<text x="1080" y="292.6" class="lg">IVSS-LMS α=7</text>
<line x1="946.3" y1="325.8" x2="1070" y2="325.8" stroke="#4dbeee" stroke-width="8.5"/>
<text x="1080" y="340.8" class="lg">IVSS-LMS α=3</text>
</svg></body></html>
